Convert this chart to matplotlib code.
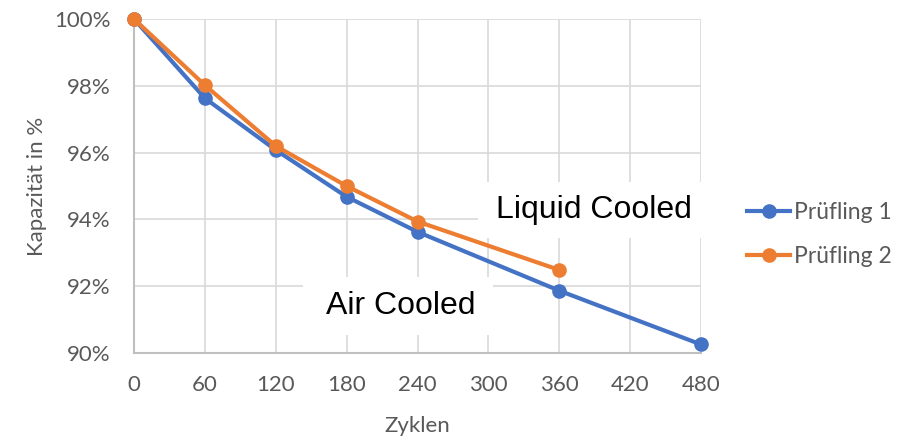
import matplotlib.pyplot as plt
from matplotlib.patches import Rectangle
from matplotlib.ticker import FuncFormatter

# Zyklen and remaining capacity (%) of the two test cells
zyklen_1 = [0, 60, 120, 180, 240, 360, 480]
kapazitaet_1 = [100.0, 97.63, 96.08, 94.68, 93.63, 91.87, 90.26]
zyklen_2 = [0, 60, 120, 180, 240, 360]
kapazitaet_2 = [100.0, 98.02, 96.20, 95.00, 93.94, 92.49]

x_ticks = [0, 60, 120, 180, 240, 300, 360, 420, 480]
y_ticks = [90, 92, 94, 96, 98, 100]

blau = "#4472c4"
orange = "#ed7d31"
grau_text = "#595959"

plt.rcParams["font.family"] = ["Lato", "DejaVu Sans"]

fig = plt.figure(figsize=(9.09, 4.36), dpi=100)
ax = fig.add_axes([0.1474, 0.19, 0.6238, 0.7664])

ax.plot(zyklen_1, kapazitaet_1, color=blau, lw=3, marker="o", ms=9.5,
        label="Prüfling 1", zorder=3, clip_on=False)
ax.plot(zyklen_2, kapazitaet_2, color=orange, lw=3, marker="o", ms=9.5,
        label="Prüfling 2", zorder=4, clip_on=False)

ax.set_xlim(0, 480)
ax.set_ylim(90, 100)
ax.set_xticks(x_ticks)
ax.set_yticks(y_ticks)
ax.yaxis.set_major_formatter(FuncFormatter(lambda v, p: f"{v:.0f}%"))
ax.grid(True, color="#d9d9d9", lw=1.2, zorder=0)
ax.set_axisbelow(True)
for s in ["top", "right"]:
    ax.spines[s].set_visible(False)
for s in ["left", "bottom"]:
    ax.spines[s].set_color("#bfbfbf")
    ax.spines[s].set_linewidth(1.5)
ax.tick_params(length=0, labelsize=16, colors=grau_text)
ax.tick_params(axis="x", pad=16)
ax.tick_params(axis="y", pad=17)

ax.set_xlabel("Zyklen", fontsize=16, color=grau_text, labelpad=14.5)
ax.set_ylabel("Kapazität in %", fontsize=16, color=grau_text, labelpad=5)

# white text boxes with annotations
for (x0, y0, w, h), txt in [((0.607, 0.344, 0.40, 0.168), "Liquid Cooled"),
                            ((0.298, 0.054, 0.335, 0.174), "Air Cooled")]:
    ax.add_patch(Rectangle((x0, y0), w, h, transform=ax.transAxes,
                           facecolor="white", edgecolor="none", zorder=2,
                           clip_on=False))
    ax.text(x0 + w / 2 + 0.005, y0 + h / 2, txt, transform=ax.transAxes,
            ha="center", va="center", fontsize=23, color="black",
            family="Liberation Sans", zorder=5)

fig.legend(loc="center left", bbox_to_anchor=(0.809, 0.462), frameon=False,
           fontsize=16.5, labelcolor=grau_text, handlelength=1.9,
           handletextpad=0.15, labelspacing=1.0, borderpad=0)

fig.savefig("out.png", dpi=100)
